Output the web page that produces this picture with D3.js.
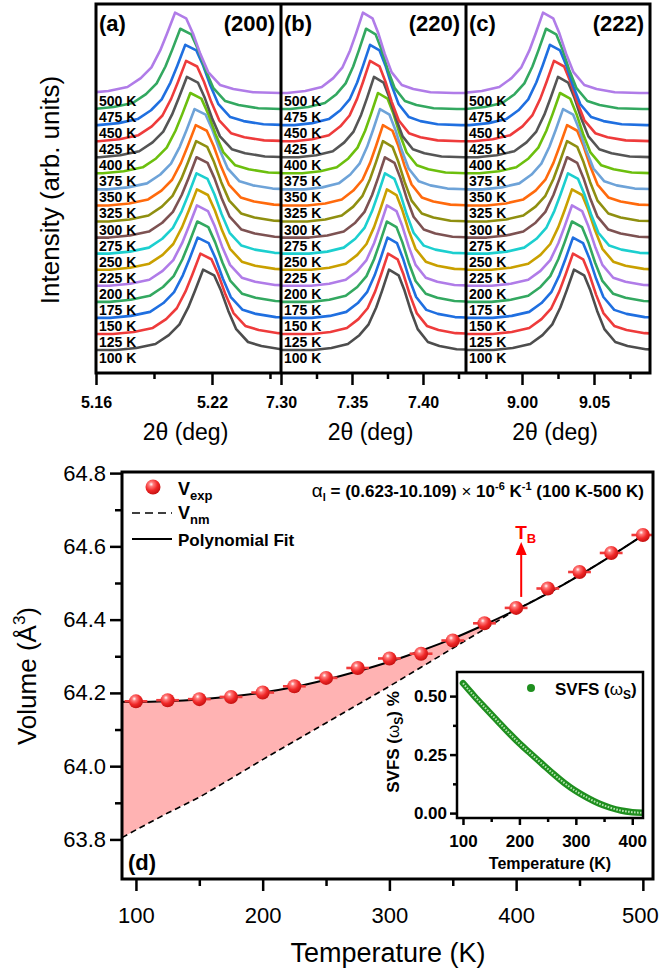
<!DOCTYPE html>
<html lang="en">
<head>
<meta charset="utf-8">
<title>thermal expansion</title>
<script src="https://d3js.org/d3.v7.min.js"></script>
<style>
  body {margin:0; background:#fff;}
  text {font-family:"Liberation Sans", Arial, sans-serif;}
</style>
</head>
<body>
<script>
// ---------- data ----------
const temps = [100,125,150,175,200,225,250,275,300,325,350,375,400,425,450,475,500];
// peak centres (2theta, deg), 100 K first
const peak200 = [5.2154,5.2140,5.2126,5.2124,5.2122,5.2122,5.2120,5.2120,5.2118,5.2116,5.2110,5.2088,5.2070,5.2066,5.2062,5.2036,5.2009];
const peak220 = [7.3761,7.3754,7.3750,7.3746,7.3746,7.3746,7.3732,7.3732,7.3718,7.3718,7.3697,7.3683,7.3655,7.3627,7.3627,7.3599,7.3577];
const peak222 = [9.0361,9.0354,9.0354,9.0347,9.0347,9.0347,9.0319,9.0313,9.0313,9.0313,9.0285,9.0264,9.0250,9.0222,9.0194,9.0167,9.0146];
const profX = [-8,-2.3,-1.75,-1.25,-0.9,-0.62,-0.39,-0.21,0,0.29,0.47,0.66,0.87,1.18,1.53,2.05,2.76,8];
const profY = [0,0,0.025,0.075,0.185,0.32,0.53,0.74,1.0,0.93,0.74,0.49,0.26,0.10,0.05,0.01,0,0];
const fwhm = [0.0197, 0.0232, 0.0243];

// panel (d)
const expT = [100,125,150,175,200,225,250,275,300,325,350,375,400,425,450,475,500];
const expV = [64.177,64.180,64.183,64.189,64.201,64.218,64.241,64.268,64.294,64.307,64.343,64.390,64.432,64.485,64.530,64.582,64.631];
const expErrT = 9;
const fitT = [89,100,125,150,175,200,225,250,275,300,325,350,375,400,425,450,475,500];
const fitV = [64.176,64.175,64.177,64.182,64.190,64.201,64.216,64.236,64.259,64.285,64.315,64.348,64.386,64.427,64.472,64.521,64.574,64.630];
const nmV  = [63.805,63.826,63.872,63.915,63.966,64.018,64.068,64.118,64.168,64.218,64.270,64.322,64.374,64.427,64.472,64.521,64.574,64.630];
const TB = 404;

// inset
const svfsT = [100,120,140,160,180,200,220,240,260,280,300,320,340,360,380,400,418];
const svfsV = [0.555,0.500,0.448,0.397,0.346,0.298,0.254,0.211,0.168,0.128,0.094,0.066,0.042,0.024,0.011,0.004,0.001];

const colors = ["#4d4d4d","#ee3b3b","#1f6fe0","#33a860","#b07ce8","#c9a000","#1ccfcf","#7d5252",
                "#8f8f10","#ff6a0d","#6ea3d8","#6cbf0e","#555555","#ee3b3b","#1f6fe0","#33a860","#b07ce8"];

const svg = d3.select("body").append("svg").attr("width", 659).attr("height", 971);
const defs = svg.append("defs");
const grad = defs.append("radialGradient").attr("id","ball").attr("cx","38%").attr("cy","32%").attr("r","70%");
grad.append("stop").attr("offset","0").attr("stop-color","#ffffff");
grad.append("stop").attr("offset","0.22").attr("stop-color","#ff7a7a");
grad.append("stop").attr("offset","0.6").attr("stop-color","#f02828");
grad.append("stop").attr("offset","1").attr("stop-color","#c41010");

// ---------- top panels ----------
const PEAK = 5;
const yTop = d3.scaleLinear().domain([-1.43, 21.54]).range([373, 4]);
const panels = [
  {id:"(a)", hkl:"(200)", left:96,  right:281, domain:[5.16,5.2557], ticks:[5.16,5.22], minor:[5.19,5.25], centers:peak200},
  {id:"(b)", hkl:"(220)", left:281, right:466, domain:[7.30,7.4303], ticks:[7.30,7.35,7.40], minor:[7.325,7.375,7.425], centers:peak220},
  {id:"(c)", hkl:"(222)", left:466, right:650, domain:[8.9611,9.0889], ticks:[9.00,9.05], minor:[8.975,9.025,9.075], centers:peak222}
];

panels.forEach(function(p, j) {
  const x = d3.scaleLinear().domain(p.domain).range([p.left, p.right]);
  defs.append("clipPath").attr("id","clip"+j).append("rect")
    .attr("x", p.left).attr("y", 4).attr("width", p.right - p.left).attr("height", 369);
  const g = svg.append("g").attr("clip-path", `url(#clip${j})`);
  const line = d3.line().x(d => x(d[0])).y(d => yTop(d[1]));
  temps.forEach(function(t, i) {
    const pts = profX.map((o, k) => [p.centers[i] + o * fwhm[j], i + PEAK * profY[k]]);
    g.append("path").attr("d", line(pts)).attr("fill","none")
      .attr("stroke", colors[i]).attr("stroke-width", 2.6).attr("stroke-linejoin","round");
  });
  temps.forEach(function(t, i) {
    svg.append("text").attr("x", p.left + 3).attr("y", yTop(i) + 13)
      .attr("font-size", 14).attr("font-weight","bold").text(t + " K");
  });
  svg.append("text").attr("x", p.left + 3).attr("y", 31).attr("font-size", 22).attr("font-weight","bold").text(p.id);
  svg.append("text").attr("x", p.right - 6).attr("y", 31).attr("text-anchor","end")
    .attr("font-size", 22).attr("font-weight","bold").text(p.hkl);

  const ax = svg.append("g").attr("transform","translate(0,373)")
    .call(d3.axisBottom(x).tickValues(p.ticks).tickSize(12).tickPadding(12).tickFormat(d3.format(".2f")));
  ax.select(".domain").remove();
  ax.selectAll("line").attr("stroke-width", 2.5);
  ax.selectAll("text").attr("font-size", 16).attr("font-weight","bold").attr("font-family", null);
  const axm = svg.append("g").attr("transform","translate(0,373)")
    .call(d3.axisBottom(x).tickValues(p.minor).tickSize(6).tickFormat(""));
  axm.select(".domain").remove();
  axm.selectAll("line").attr("stroke-width", 2.5);

  svg.append("text").attr("x", (p.left + p.right) / 2 - 3).attr("y", 440).attr("text-anchor","middle")
    .attr("font-size", 23).text("2θ (deg)");
});
svg.append("rect").attr("x",96).attr("y",4).attr("width",554).attr("height",369)
  .attr("fill","none").attr("stroke","#000").attr("stroke-width",3);
[281, 466].forEach(xx => svg.append("line").attr("x1",xx).attr("x2",xx).attr("y1",4).attr("y2",373)
  .attr("stroke","#000").attr("stroke-width",3));
svg.append("text").attr("transform","translate(59,190) rotate(-90)").attr("text-anchor","middle")
  .attr("font-size", 26).text("Intensity (arb. units)");

// ---------- panel (d) ----------
const xT = d3.scaleLinear().domain([89, 508]).range([122, 653]);
const yV = d3.scaleLinear().domain([63.692, 64.803]).range([879, 472]);
defs.append("clipPath").attr("id","clipd").append("rect").attr("x",122).attr("y",472).attr("width",531).attr("height",407);
const gd = svg.append("g").attr("clip-path","url(#clipd)");

const fill = fitT.map((t, i) => ({t: t, hi: fitV[i], lo: nmV[i]})).filter(d => d.t <= 400);
gd.append("path").datum(fill)
  .attr("d", d3.area().x(d => xT(d.t)).y0(d => yV(d.lo)).y1(d => yV(d.hi)))
  .attr("fill","#ffb3b3");
gd.append("path").attr("d", d3.line().x((t) => xT(t)).y((t, i) => yV(nmV[i]))(fitT))
  .attr("fill","none").attr("stroke","#000").attr("stroke-width",1.6).attr("stroke-dasharray","6,4");
gd.append("path").attr("d", d3.line().curve(d3.curveMonotoneX).x((t) => xT(t)).y((t, i) => yV(fitV[i]))(fitT))
  .attr("fill","none").attr("stroke","#000").attr("stroke-width",2);

expT.forEach(function(t, i) {
  gd.append("line").attr("x1", xT(t - expErrT)).attr("x2", xT(t + expErrT))
    .attr("y1", yV(expV[i])).attr("y2", yV(expV[i])).attr("stroke","#f03a3a").attr("stroke-width",2.6);
});
gd.selectAll("circle.exp").data(expT).join("circle").attr("class","exp")
  .attr("cx", d => xT(d)).attr("cy", (d, i) => yV(expV[i])).attr("r", 7).attr("fill","url(#ball)");

// T_B arrow
svg.append("line").attr("x1", xT(TB)).attr("x2", xT(TB)).attr("y1", yV(64.462)).attr("y2", yV(64.59))
  .attr("stroke","#ff0000").attr("stroke-width",2);
svg.append("path").attr("d", `M${xT(TB)},${yV(64.612)} l-5.5,13 l11,0 z`).attr("fill","#ff0000");
const tb = svg.append("text").attr("x", xT(TB) - 6).attr("y", 539).attr("font-size",19).attr("font-weight","bold").attr("fill","#ff0000");
tb.append("tspan").text("T");
tb.append("tspan").attr("font-size",13).attr("dy",4).text("B");

// axes
function styleAxis(a, size) {
  a.select(".domain").remove();
  a.selectAll("line").attr("stroke-width", 2.5);
  a.selectAll("text").attr("font-size", size).attr("font-family", null);
  return a;
}
styleAxis(svg.append("g").attr("transform","translate(122,0)")
  .call(d3.axisLeft(yV).tickValues([63.8,64.0,64.2,64.4,64.6,64.8]).tickSize(12).tickPadding(4).tickFormat(d3.format(".1f"))), 22);
styleAxis(svg.append("g").attr("transform","translate(122,0)")
  .call(d3.axisLeft(yV).tickValues([63.9,64.1,64.3,64.5,64.7]).tickSize(7).tickFormat("")), 22);
styleAxis(svg.append("g").attr("transform","translate(0,879)")
  .call(d3.axisBottom(xT).tickValues([100,200,300,400,500]).tickSize(12).tickPadding(16)), 22)
  .selectAll("text").filter(d => d === 500).attr("dx", -3);
styleAxis(svg.append("g").attr("transform","translate(0,879)")
  .call(d3.axisBottom(xT).tickValues([150,250,350,450]).tickSize(7).tickFormat("")), 22);
svg.append("rect").attr("x",122).attr("y",472).attr("width",531).attr("height",407)
  .attr("fill","none").attr("stroke","#000").attr("stroke-width",3);

const vl = svg.append("text").attr("transform","translate(36,676) rotate(-90)").attr("text-anchor","middle").attr("font-size",26);
vl.append("tspan").text("Volume (Å");
vl.append("tspan").attr("font-size",17).attr("dy",-11).text("3");
vl.append("tspan").attr("dy",11).text(")");
svg.append("text").attr("x",388).attr("y",962).attr("text-anchor","middle").attr("font-size",27).text("Temperature (K)");
svg.append("text").attr("x",128).attr("y",870).attr("font-size",22).attr("font-weight","bold").text("(d)");

// legend
svg.append("circle").attr("cx",153).attr("cy",487).attr("r",7.5).attr("fill","url(#ball)");
const l1 = svg.append("text").attr("x",178).attr("y",495).attr("font-size",18).attr("font-weight","bold");
l1.append("tspan").text("V"); l1.append("tspan").attr("font-size",13).attr("dy",5).text("exp");
svg.append("line").attr("x1",132).attr("x2",172).attr("y1",513).attr("y2",513)
  .attr("stroke","#000").attr("stroke-width",1.6).attr("stroke-dasharray","8,5");
const l2 = svg.append("text").attr("x",178).attr("y",519).attr("font-size",18).attr("font-weight","bold");
l2.append("tspan").text("V"); l2.append("tspan").attr("font-size",13).attr("dy",5).text("nm");
svg.append("line").attr("x1",132).attr("x2",172).attr("y1",539).attr("y2",539).attr("stroke","#000").attr("stroke-width",2);
svg.append("text").attr("x",178).attr("y",546).attr("font-size",17).attr("font-weight","bold").text("Polynomial Fit");

const al = svg.append("text").attr("x",644).attr("y",497).attr("text-anchor","end").attr("font-size",17).attr("font-weight","bold");
al.append("tspan").attr("font-weight","normal").attr("font-size",19).text("α");
al.append("tspan").attr("font-size",11).attr("dy",4).text("l");
al.append("tspan").attr("dy",-4).text(" = (0.623-10.109) ");
al.append("tspan").attr("font-weight","normal").text("×");
al.append("tspan").text(" 10");
al.append("tspan").attr("font-size",11).attr("dy",-7).text("-6");
al.append("tspan").attr("dy",7).text(" K");
al.append("tspan").attr("font-size",11).attr("dy",-7).text("-1");
al.append("tspan").attr("dy",7).text(" (100 K-500 K)");

// ---------- inset ----------
const xI = d3.scaleLinear().domain([89.4, 419]).range([457, 643]);
const yI = d3.scaleLinear().domain([-0.021, 0.603]).range([818, 672]);
svg.append("rect").attr("x",457).attr("y",672).attr("width",186).attr("height",146).attr("fill","#fff");
defs.append("clipPath").attr("id","clipi").append("rect").attr("x",457).attr("y",672).attr("width",186).attr("height",146);
const gi = svg.append("g").attr("clip-path","url(#clipi)");
const sLine = d3.line().curve(d3.curveMonotoneX).x(t => xI(t)).y((t, i) => yI(svfsV[i]));
gi.append("path").attr("d", sLine(svfsT)).attr("fill","none").attr("stroke","#1f8f1f").attr("stroke-width",6.5).attr("stroke-linecap","round");
gi.append("path").attr("d", sLine(svfsT)).attr("fill","none").attr("stroke","#b5e6b0").attr("stroke-width",2).attr("stroke-dasharray","1.6,1.4");

styleAxis(svg.append("g").attr("transform","translate(457,0)")
  .call(d3.axisLeft(yI).tickValues([0,0.25,0.5]).tickSize(7).tickPadding(3).tickFormat(d3.format(".2f"))), 17)
  .selectAll("text").attr("font-weight","bold");
styleAxis(svg.append("g").attr("transform","translate(457,0)")
  .call(d3.axisLeft(yI).tickValues([0.125,0.375]).tickSize(4).tickFormat("")), 17);
styleAxis(svg.append("g").attr("transform","translate(0,818)")
  .call(d3.axisBottom(xI).tickValues([100,200,300,400]).tickSize(7).tickPadding(10)), 17)
  .selectAll("text").attr("font-weight","bold");
styleAxis(svg.append("g").attr("transform","translate(0,818)")
  .call(d3.axisBottom(xI).tickValues([150,250,350]).tickSize(4).tickFormat("")), 17);
svg.append("rect").attr("x",457).attr("y",672).attr("width",186).attr("height",146)
  .attr("fill","none").attr("stroke","#000").attr("stroke-width",2.5);

svg.append("circle").attr("cx",531).attr("cy",688).attr("r",4).attr("fill","#1f8f1f");
const il = svg.append("text").attr("x",555).attr("y",695).attr("font-size",17).attr("font-weight","bold");
il.append("tspan").text("SVFS (");
il.append("tspan").attr("font-weight","normal").text("ω");
il.append("tspan").attr("font-size",12).attr("dy",4).text("S");
il.append("tspan").attr("dy",-4).text(")");
const iy = svg.append("text").attr("transform","translate(399,742) rotate(-90)").attr("text-anchor","middle")
  .attr("font-size",17).attr("font-weight","bold");
iy.append("tspan").text("SVFS (");
iy.append("tspan").attr("font-weight","normal").text("ω");
iy.append("tspan").attr("font-size",12).attr("dy",4).text("S");
iy.append("tspan").attr("dy",-4).text(") %");
svg.append("text").attr("x",550).attr("y",869).attr("text-anchor","middle").attr("font-size",16).attr("font-weight","bold").text("Temperature (K)");
</script>
</body>
</html>
